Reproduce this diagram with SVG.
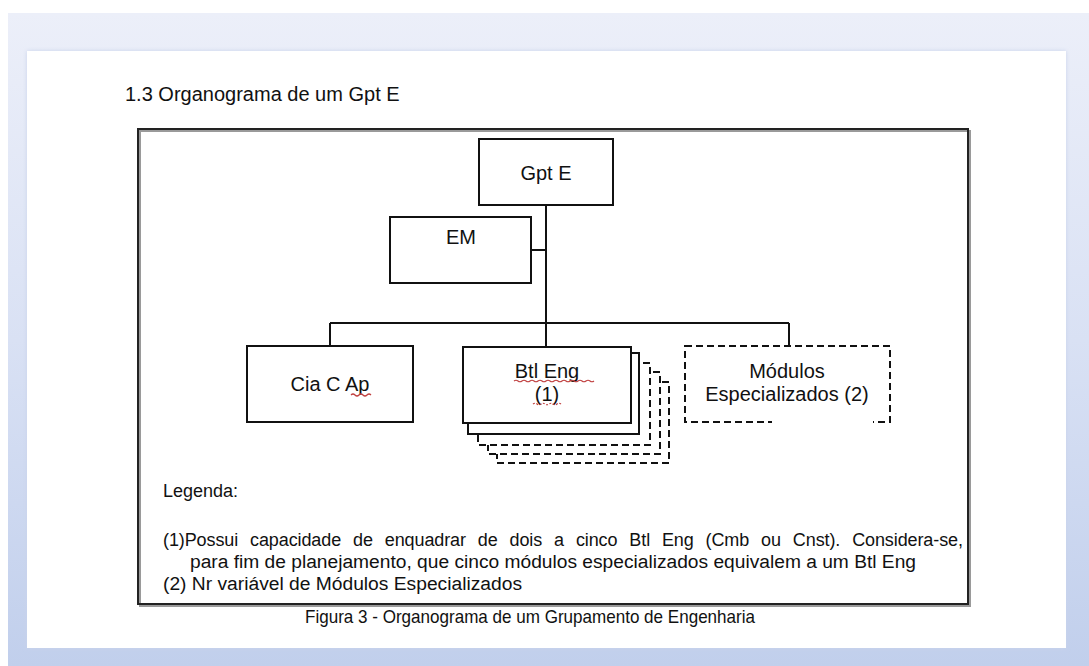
<svg xmlns="http://www.w3.org/2000/svg" width="1089" height="666" viewBox="0 0 1089 666">
  <defs>
    <linearGradient id="bg" x1="0" y1="0" x2="0" y2="1">
      <stop offset="0" stop-color="#eceff9"/>
      <stop offset="0.5" stop-color="#d9e1f4"/>
      <stop offset="1" stop-color="#c1cfec"/>
    </linearGradient>
    <filter id="soft" x="-5%" y="-5%" width="110%" height="110%">
      <feGaussianBlur stdDeviation="2"/>
    </filter>
  </defs>
  <style>
    .box { fill: #ffffff; stroke: #111111; stroke-width: 2; }
    .dash { fill: #ffffff; stroke: #111111; stroke-width: 2; stroke-dasharray: 7 4; }
    .conn { fill: none; stroke: #111111; stroke-width: 2; }
    .lbl { font-family: "Liberation Sans", Arial, sans-serif; font-size: 20px; fill: #111111; text-anchor: middle; }
    .txt { font-family: "Liberation Sans", Arial, sans-serif; fill: #111111; }
    .sq { fill: none; stroke: #c04040; stroke-width: 1.2; }
  </style>

  <!-- background -->
  <rect x="0" y="0" width="1089" height="666" fill="#ffffff"/>
  <rect x="8" y="13" width="1081" height="653" fill="url(#bg)"/>
  <rect x="27" y="51" width="1039" height="597" fill="#c9d3ea" filter="url(#soft)"/>
  <rect x="27" y="51" width="1039" height="597" fill="#ffffff"/>

  <!-- title -->
  <text class="txt" x="125" y="101" font-size="20">1.3 Organograma de um Gpt E</text>

  <!-- frame -->
  <rect x="140" y="131" width="830" height="475" fill="none" stroke="#9a9a9a" stroke-width="2"/>
  <rect x="138" y="129" width="830" height="475" fill="none" stroke="#222222" stroke-width="2"/>

  <!-- connectors -->
  <g id="connectors">
    <path class="conn" d="M546 205 V347"/>
    <path class="conn" d="M531 250 H546"/>
    <path class="conn" d="M330 323 H789"/>
    <path class="conn" d="M330 323 V346"/>
    <path class="conn" d="M789 323 V346"/>
  </g>

  <g id="gpt-e">
    <rect class="box" x="479" y="139" width="134" height="66"/>
    <text class="lbl" x="546" y="180">Gpt E</text>
  </g>

  <g id="em">
    <rect class="box" x="390" y="217" width="141" height="66"/>
    <text class="lbl" x="461" y="244">EM</text>
  </g>

  <g id="cia-c-ap">
    <rect class="box" x="247" y="346" width="166" height="76"/>
    <text class="lbl" x="330" y="391">Cia C Ap</text>
    <path class="sq" d="M351 395 q2 -2 4 0 t4 0 t4 0 t4 0 t4 0"/>
  </g>

  <g id="btl-eng">
    <rect class="dash" x="497" y="382" width="172" height="81"/>
    <rect class="dash" x="488" y="372" width="172" height="82"/>
    <rect class="dash" x="478" y="363" width="172" height="82"/>
    <rect class="box" x="468" y="353" width="171" height="81"/>
    <rect class="box" x="463" y="347" width="168" height="76"/>
    <text class="lbl" x="547" y="378">Btl Eng</text>
    <text class="lbl" x="547" y="401">(1)</text>
    <path class="sq" d="M514 381 q2 -1.5 4 0 t4 0 t4 0 t4 0 t4 0 t4 0 t4 0 t4 0 t4 0 t4 0 t4 0 t4 0 t4 0 t4 0 t4 0 t4 0 t4 0 t4 0 t4 0 t4 0"/>
    <path class="sq" d="M533 404 q2 -1.5 4 0 t4 0 t4 0 t4 0 t4 0 t4 0 t4 0" stroke-dasharray="2 1.5"/>
  </g>

  <g id="modulos">
    <rect class="dash" x="685" y="346" width="205" height="76"/>
    <text class="lbl" x="787" y="378">Módulos</text>
    <text class="lbl" x="787" y="401">Especializados (2)</text>
  </g>

  <!-- white patch over module box -->
  <rect x="772" y="405" width="101" height="71" fill="#ffffff"/>

  <!-- legend -->
  <g id="legend">
    <text class="txt" x="163" y="497" font-size="18">Legenda:</text>
    <text class="txt" x="163" y="546" font-size="18" word-spacing="7" textLength="800" lengthAdjust="spacing">(1)Possui capacidade de enquadrar de dois a cinco Btl Eng (Cmb ou Cnst). Considera-se,</text>
    <text class="txt" x="190" y="568" font-size="18" textLength="726" lengthAdjust="spacingAndGlyphs">para fim de planejamento, que cinco módulos especializados equivalem a um Btl Eng</text>
    <text class="txt" x="163" y="590" font-size="18" textLength="359" lengthAdjust="spacingAndGlyphs">(2) Nr variável de Módulos Especializados</text>
  </g>

  <!-- caption -->
  <text class="txt" x="305" y="623" font-size="19" textLength="450" lengthAdjust="spacingAndGlyphs">Figura 3 - Organograma de um Grupamento de Engenharia</text>
</svg>
